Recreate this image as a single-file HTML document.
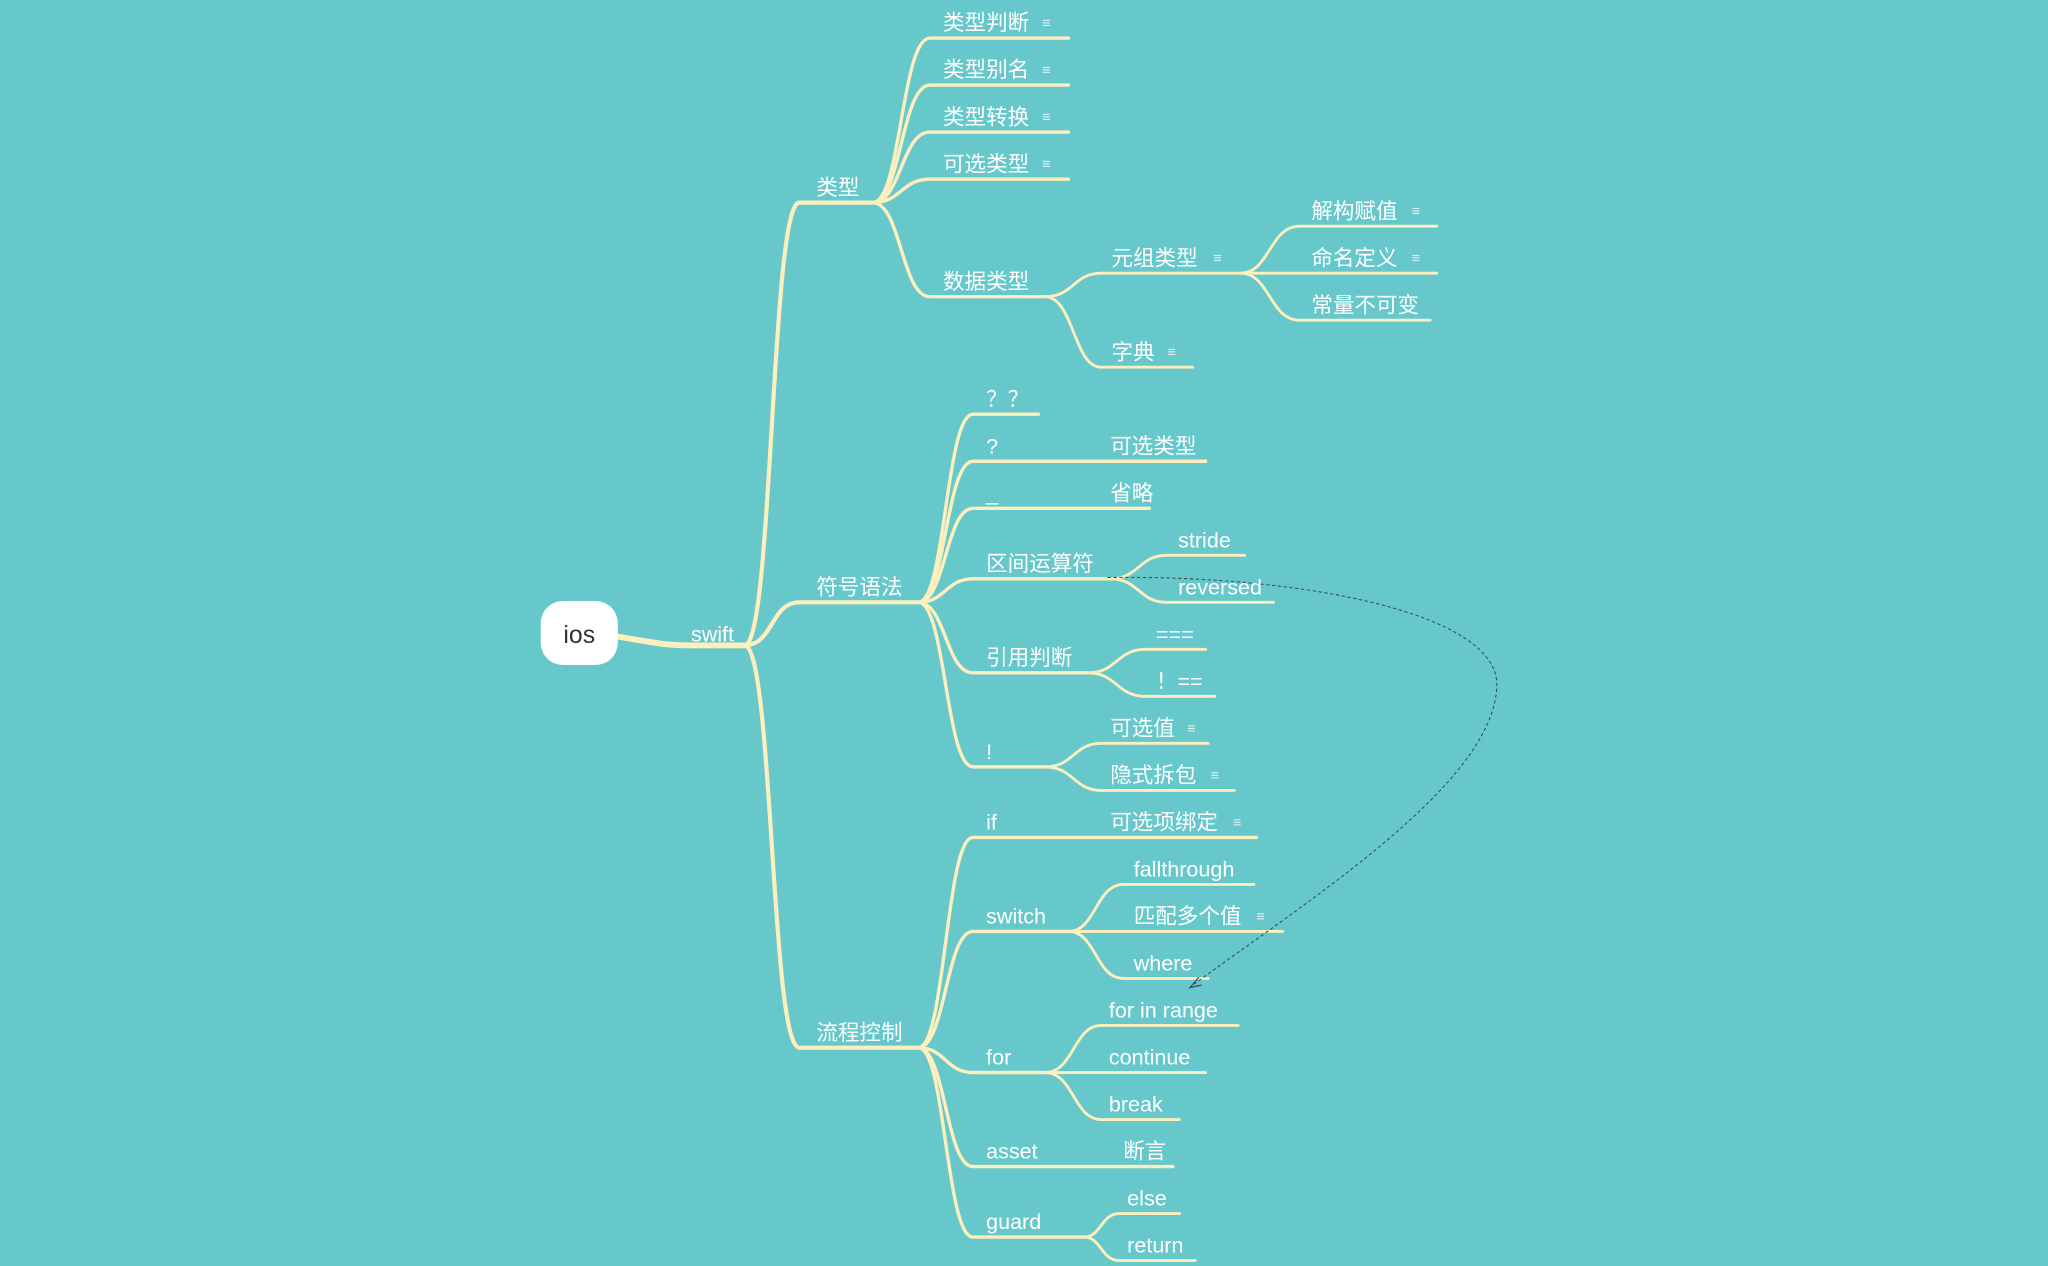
<!DOCTYPE html>
<html><head><meta charset="utf-8"><style>
html,body{margin:0;padding:0;background:#66c8cb;}
svg{display:block}
text{font-family:"Liberation Sans","Noto Sans CJK SC",sans-serif;fill:#fff;font-size:16.5px;}
.n{fill:#e8f4f4;font-size:11px;}
</style></head><body>
<svg width="2048" height="1266" viewBox="0 0 1568 969" xmlns="http://www.w3.org/2000/svg">
<rect width="1568" height="969" fill="#66c8cb"/>
<g fill="none" stroke="#fcefbd" stroke-linecap="round">
<path d="M472,487 C500,492 510,494 530,494 H570" stroke-width="4.5"/>
<g stroke-width="3.2">
<path d="M570,494 C592,494 590,155 612,155 H668"/>
<path d="M570,494 C592,494 590,461 612,461 H703"/>
<path d="M570,494 C592,494 590,802 612,802 H703"/>
</g>
<g stroke-width="2.6">
<path d="M668,155 C690,155 690,29 712,29 H818"/>
<path d="M668,155 C690,155 690,65 712,65 H818"/>
<path d="M668,155 C690,155 690,101 712,101 H818"/>
<path d="M668,155 C690,155 690,137 712,137 H818"/>
<path d="M668,155 C690,155 690,227 712,227 H800"/>
<path d="M703,461 C724,461 724,317 745,317 H795"/>
<path d="M703,461 C724,461 724,353 745,353 H923"/>
<path d="M703,461 C724,461 724,389 745,389 H880"/>
<path d="M703,461 C724,461 724,443 745,443 H850"/>
<path d="M703,461 C724,461 724,515 745,515 H833"/>
<path d="M703,461 C724,461 724,587 745,587 H800"/>
<path d="M703,802 C724,802 724,641 745,641 H962"/>
<path d="M703,802 C724,802 724,713 745,713 H818"/>
<path d="M703,802 C724,802 724,821 745,821 H800"/>
<path d="M703,802 C724,802 724,893 745,893 H898"/>
<path d="M703,802 C724,802 724,947 745,947 H830"/>
</g>
<g stroke-width="2.2">
<path d="M800,227 C822,227 822,209 843,209 H950"/>
<path d="M800,227 C822,227 822,281 843,281 H913"/>
<path d="M950,209 C972,209 972,173 995,173 H1100"/>
<path d="M950,209 C972,209 972,209 995,209 H1100"/>
<path d="M950,209 C972,209 972,245 995,245 H1095"/>
<path d="M850,443 C872,443 872,425 893,425 H953"/>
<path d="M850,443 C872,443 872,461 893,461 H975"/>
<path d="M833,515 C855,515 855,497 877,497 H923"/>
<path d="M833,515 C855,515 855,533 877,533 H930"/>
<path d="M800,587 C822,587 822,569 843,569 H925"/>
<path d="M800,587 C822,587 822,605 843,605 H945"/>
<path d="M818,713 C839,713 839,677 860,677 H960"/>
<path d="M818,713 C839,713 839,713 860,713 H982"/>
<path d="M818,713 C839,713 839,749 860,749 H925"/>
<path d="M800,821 C822,821 822,785 843,785 H948"/>
<path d="M800,821 C822,821 822,821 843,821 H923"/>
<path d="M800,821 C822,821 822,857 843,857 H903"/>
<path d="M830,947 C843,947 843,929 857,929 H903"/>
<path d="M830,947 C843,947 843,965 857,965 H915"/>
</g>
</g>
<path d="M848,442 C1000,440 1148,470 1146,525 C1144,600 1000,690 912,755" fill="none" stroke="#2f4f55" stroke-width="0.8" stroke-dasharray="2.5,2"/>
<path d="M918,748 L911,756 L920,754" fill="none" stroke="#2f4f55" stroke-width="0.9"/>
<rect x="414" y="460" width="59" height="49" rx="17" fill="#fff"/>
<text x="443.5" y="492" text-anchor="middle" style="fill:#333;font-size:19px">ios</text>
<text x="529" y="491">swift</text>
<text x="625" y="149">类型</text>
<text x="625" y="455">符号语法</text>
<text x="625" y="796">流程控制</text>
<text x="722" y="23">类型判断</text><text class="n" x="798" y="21">≡</text>
<text x="722" y="59">类型别名</text><text class="n" x="798" y="57">≡</text>
<text x="722" y="95">类型转换</text><text class="n" x="798" y="93">≡</text>
<text x="722" y="131">可选类型</text><text class="n" x="798" y="129">≡</text>
<text x="722" y="221">数据类型</text>
<text x="851" y="203">元组类型</text><text class="n" x="929" y="201">≡</text>
<text x="851" y="275">字典</text><text class="n" x="894" y="273">≡</text>
<text x="1004" y="167">解构赋值</text><text class="n" x="1081" y="165">≡</text>
<text x="1004" y="203">命名定义</text><text class="n" x="1081" y="201">≡</text>
<text x="1004" y="239">常量不可变</text>
<text x="755" y="311">？？</text>
<text x="755" y="347">?</text><text x="850" y="347">可选类型</text>
<text x="755" y="383">_</text><text x="850" y="383">省略</text>
<text x="755" y="437">区间运算符</text>
<text x="902" y="419">stride</text>
<text x="902" y="455">reversed</text>
<text x="755" y="509">引用判断</text>
<text x="885" y="491">===</text>
<text x="885" y="527">！==</text>
<text x="755" y="581">!</text>
<text x="850" y="563">可选值</text><text class="n" x="909" y="561">≡</text>
<text x="850" y="599">隐式拆包</text><text class="n" x="927" y="597">≡</text>
<text x="755" y="635">if</text><text x="850" y="635">可选项绑定</text><text class="n" x="944" y="633">≡</text>
<text x="755" y="707">switch</text>
<text x="868" y="671">fallthrough</text>
<text x="868" y="707">匹配多个值</text><text class="n" x="962" y="705">≡</text>
<text x="868" y="743">where</text>
<text x="755" y="815">for</text>
<text x="849" y="779">for in range</text>
<text x="849" y="815">continue</text>
<text x="849" y="851">break</text>
<text x="755" y="887">asset</text><text x="860" y="887">断言</text>
<text x="755" y="941">guard</text>
<text x="863" y="923">else</text>
<text x="863" y="959">return</text>
</svg>
</body></html>
